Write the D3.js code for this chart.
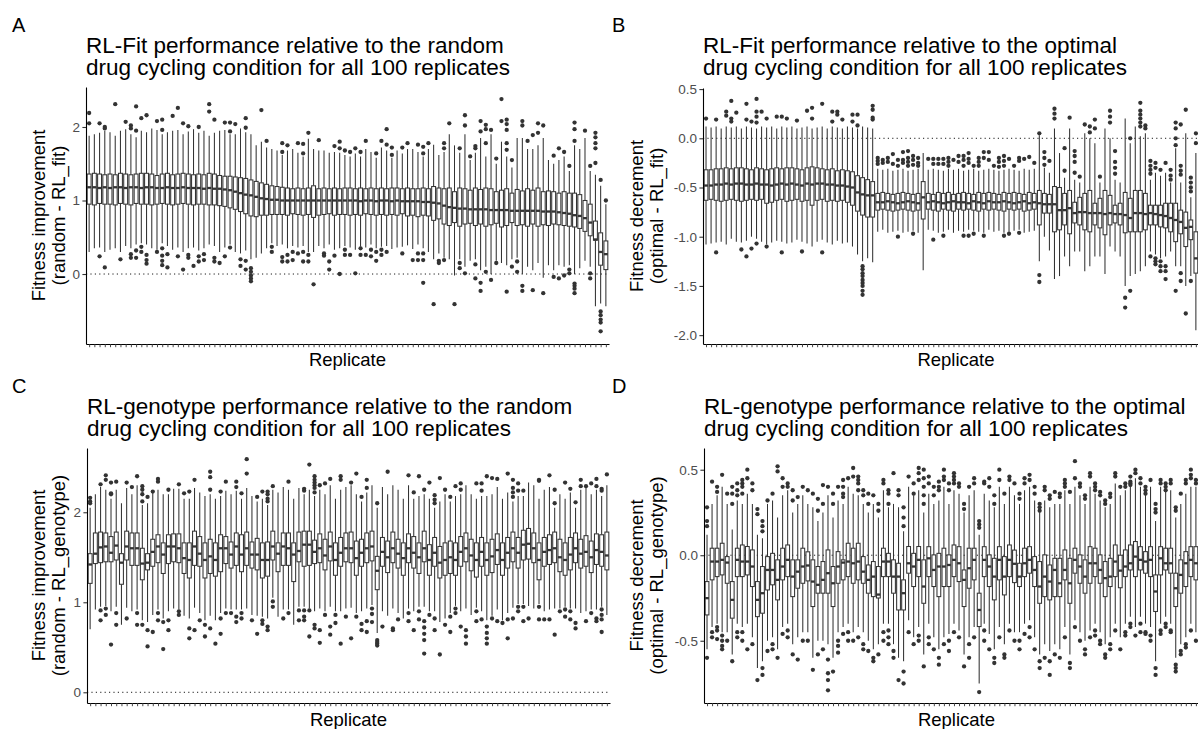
<!DOCTYPE html>
<html><head><meta charset="utf-8">
<script src="https://cdn.jsdelivr.net/npm/d3@7"></script>
<style>
html,body{margin:0;padding:0;background:#fff;}
svg{display:block;font-family:"Liberation Sans",Arial,Helvetica,sans-serif;}
</style></head><body>
<svg id="chart" width="1198" height="729"></svg>
<script>
// ---------- categories ----------
const replicates = d3.range(1, 101);

// ---------- Panel A: RL-Fit vs random ----------
const aMed=[1.18,1.18,1.17,1.18,1.17,1.18,1.18,1.17,1.18,1.18,
1.17,1.18,1.18,1.17,1.17,1.18,1.17,1.17,1.18,1.17,
1.17,1.17,1.16,1.17,1.16,1.16,1.15,1.14,1.12,1.1,
1.08,1.07,1.05,1.03,1.02,1.01,1.01,1.0,1.0,1.0,
1.0,1.0,1.0,1.0,1.0,1.0,1.0,1.0,1.0,1.0,
1.0,1.0,0.99,1.0,1.0,0.99,1.0,1.0,0.99,1.0,
0.99,0.99,0.99,0.99,0.98,0.98,0.97,0.96,0.93,0.91,
0.9,0.89,0.89,0.88,0.88,0.88,0.88,0.87,0.87,0.87,
0.87,0.86,0.86,0.86,0.86,0.86,0.86,0.85,0.85,0.85,
0.84,0.83,0.82,0.8,0.79,0.76,0.7,0.47,0.3,0.27];
const aQ3=[1.36,1.37,1.36,1.35,1.36,1.35,1.37,1.36,1.35,1.36,
1.37,1.37,1.36,1.34,1.36,1.37,1.35,1.36,1.37,1.36,
1.35,1.36,1.35,1.37,1.36,1.34,1.33,1.33,1.32,1.31,
1.3,1.28,1.26,1.24,1.22,1.2,1.19,1.18,1.17,1.16,
1.17,1.16,1.17,1.2,1.16,1.17,1.16,1.17,1.16,1.17,
1.17,1.16,1.17,1.16,1.17,1.16,1.17,1.16,1.17,1.17,
1.16,1.17,1.16,1.16,1.17,1.16,1.19,1.17,1.16,1.17,
1.12,1.17,1.16,1.14,1.17,1.15,1.17,1.16,1.12,1.14,
1.16,1.1,1.15,1.13,1.16,1.14,1.17,1.12,1.13,1.12,
1.1,1.12,1.1,1.1,1.08,1.0,0.95,0.72,0.56,0.45];
const aQ1=[0.95,0.94,0.96,0.95,0.95,0.94,0.96,0.95,0.94,0.96,
0.95,0.95,0.94,0.95,0.96,0.95,0.94,0.95,0.96,0.95,
0.94,0.95,0.95,0.94,0.94,0.93,0.92,0.9,0.88,0.85,
0.82,0.79,0.78,0.8,0.8,0.81,0.81,0.81,0.8,0.82,
0.81,0.8,0.81,0.77,0.8,0.81,0.82,0.8,0.81,0.81,
0.8,0.81,0.8,0.82,0.81,0.8,0.81,0.8,0.81,0.8,
0.82,0.79,0.8,0.78,0.8,0.79,0.73,0.75,0.68,0.66,
0.7,0.65,0.68,0.69,0.66,0.68,0.65,0.67,0.69,0.64,
0.66,0.7,0.66,0.67,0.65,0.68,0.65,0.67,0.66,0.68,
0.67,0.66,0.65,0.64,0.62,0.58,0.52,0.46,0.12,0.06];
const aLo=[0.3,0.35,0.36,0.3,0.33,0.35,0.3,0.38,0.35,0.4,
0.42,0.4,0.35,0.33,0.42,0.38,0.33,0.36,0.3,0.35,
0.36,0.32,0.35,0.4,0.38,0.3,0.36,0.4,0.3,0.28,
0.32,0.2,0.22,0.28,0.35,0.42,0.38,0.4,0.35,0.38,
0.36,0.38,0.3,0.3,0.38,0.35,0.4,0.33,0.35,0.38,
0.36,0.33,0.37,0.36,0.4,0.35,0.37,0.38,0.34,0.36,
0.37,0.39,0.34,0.4,0.35,0.3,0.2,0.28,0.22,0.2,
-0.02,0.2,0.1,0.18,0.2,0.05,0.1,0.0,0.18,0.15,
0.12,0.2,0.22,0.0,0.1,0.05,0.15,-0.05,0.12,0.05,
0.12,0.1,0.12,0.0,0.08,0.18,0.1,-0.44,-0.4,-0.44];
const aHi=[1.88,1.9,1.92,1.95,1.93,1.88,1.95,1.97,1.9,1.86,
1.95,1.93,1.98,1.96,1.9,1.93,1.95,1.96,1.9,1.94,
1.97,1.92,1.95,1.88,1.92,1.95,1.96,1.9,1.9,1.98,
1.93,1.9,1.75,1.8,1.72,1.7,1.68,1.62,1.68,1.7,
1.65,1.6,1.84,1.7,1.68,1.68,1.65,1.66,1.65,1.62,
1.6,1.64,1.6,1.7,1.66,1.58,1.72,1.68,1.58,1.68,
1.64,1.7,1.7,1.66,1.6,1.7,1.76,1.62,1.66,1.9,
1.75,1.65,1.9,1.55,1.65,1.85,1.6,1.9,1.5,1.8,
1.6,1.45,1.85,1.85,1.7,1.7,1.75,1.85,1.55,1.5,
1.55,1.6,1.4,1.75,1.7,1.85,1.4,1.35,1.2,0.95];
const aOut=[[2.19,2.05],[],[2.05,0.24],[2.0,1.98,0.09],[],[2.31],[0.2],[2.07],[2.02,1.98,0.27,0.22],[2.28,1.95,0.32,0.22],
[2.12,0.37,0.3],[2.16,0.26,0.19,0.14],[],[2.08,0.3],[2.1,1.96,0.35,0.25,0.18,0.12],[0.27,0.09],[2.15],[2.26,0.24],[2.05,0.06],[2.01,0.26,0.22],
[0.11],[2.0,0.24,0.17],[0.27,0.19],[2.31,2.21],[2.1,0.22,0.17],[0.15],[2.06,0.24],[2.06,1.94,0.36],[2.04],[0.2,0.11],
[2.12,1.99,0.18,0.06],[0.08,0.03,-0.02,-0.06,-0.1],[],[2.23],[1.81],[0.37,0.3],[],[1.78,1.66,0.23,0.17],[1.75,0.26,0.17],[0.3,0.19],
[1.78,0.28],[1.77,1.64,0.3,0.17],[1.92,0.26,0.17],[-0.14],[1.82],[0.28,0.25],[0.17,0.06],[1.74,0.25],[1.8,1.71,0.0],[1.68,0.33,0.26],
[1.66,0.26],[1.71,0.01],[1.66,0.35,0.26],[1.81,0.26],[0.33,0.24],[1.64,0.3,0.18],[1.81,0.33,0.26],[1.97,1.76,0.3],[1.72,1.62],[],
[1.72,0.28],[1.78],[0.19],[1.76,0.28,0.19],[1.73,1.64,0.28,0.19,-0.12],[1.78],[-0.41],[0.18,0.15],[1.78,1.71,0.19],[2.05],
[-0.41],[1.71,0.15,0.08],[2.16,2.02,0.01],[1.6],[1.74,1.71,0.13,-0.06],[2.08,1.94,-0.12,-0.23],[2.03,1.97,1.78,0.03],[1.96,-0.08],[1.57,0.15],[2.38,2.08],
[2.1,2.04,1.96,1.78,1.69,-0.24],[1.55,0.1],[0.17,0.03],[2.08,2.02,-0.16,-0.23],[1.81],[1.89,-0.22],[2.05,1.92],[2.02,-0.26],[],[1.61,-0.04],
[1.71,-0.06],[1.66,-0.02],[1.47,0.06,0.01],[2.06,1.97,1.81,-0.13,-0.16,-0.2,-0.26],[],[1.95],[1.47,0.01,-0.06],[1.92,1.86,1.78,1.71,1.51],[1.28,-0.51,-0.56,-0.62,-0.66,-0.78],[1.0]];

// ---------- Panel B: RL-Fit vs optimal ----------
const bMed=[-0.48,-0.48,-0.47,-0.47,-0.46,-0.47,-0.46,-0.46,-0.47,-0.47,
-0.46,-0.47,-0.47,-0.48,-0.47,-0.46,-0.47,-0.46,-0.47,-0.48,
-0.46,-0.47,-0.46,-0.46,-0.47,-0.47,-0.48,-0.48,-0.49,-0.5,
-0.55,-0.57,-0.58,-0.58,
-0.65,-0.65,-0.64,-0.65,-0.66,-0.65,-0.64,-0.65,-0.66,-0.6,
-0.65,-0.64,-0.65,-0.66,-0.65,-0.64,-0.65,-0.65,-0.66,-0.64,
-0.65,-0.66,-0.64,-0.65,-0.65,-0.64,-0.65,-0.66,-0.65,-0.64,-0.66,-0.65,
-0.66,-0.67,-0.67,-0.67,-0.73,-0.73,-0.71,-0.76,-0.75,-0.75,
-0.76,-0.76,-0.76,-0.77,-0.76,-0.77,-0.77,-0.78,-0.81,-0.76,
-0.76,-0.77,-0.76,-0.77,-0.78,-0.79,-0.81,-0.83,-0.85,-0.91,-0.9,-1.22,
-0.85,-0.9];
const bQ3=[-0.32,-0.32,-0.31,-0.31,-0.3,-0.31,-0.3,-0.3,-0.31,-0.32,
-0.3,-0.31,-0.32,-0.31,-0.3,-0.31,-0.3,-0.3,-0.31,-0.32,
-0.3,-0.29,-0.3,-0.31,-0.32,-0.31,-0.33,-0.32,-0.33,-0.34,
-0.38,-0.4,-0.42,-0.44,
-0.56,-0.55,-0.56,-0.57,-0.56,-0.55,-0.56,-0.57,-0.56,-0.44,
-0.56,-0.57,-0.55,-0.56,-0.55,-0.57,-0.56,-0.55,-0.56,-0.57,
-0.55,-0.56,-0.55,-0.56,-0.57,-0.55,-0.56,-0.55,-0.56,-0.57,-0.55,-0.56,
-0.53,-0.56,-0.57,-0.49,-0.5,-0.56,-0.53,-0.65,-0.6,-0.56,
-0.53,-0.66,-0.61,-0.53,-0.58,-0.68,-0.66,-0.55,-0.61,-0.53,
-0.53,-0.56,-0.68,-0.68,-0.68,-0.66,-0.66,-0.66,-0.73,-0.75,-0.83,-0.95,
-0.7,-0.75];
const bQ1=[-0.63,-0.62,-0.63,-0.64,-0.63,-0.62,-0.63,-0.64,-0.63,-0.62,
-0.63,-0.62,-0.66,-0.65,-0.63,-0.62,-0.64,-0.63,-0.62,-0.64,
-0.63,-0.68,-0.63,-0.62,-0.64,-0.63,-0.64,-0.63,-0.65,-0.68,
-0.74,-0.78,-0.8,-0.8,
-0.73,-0.72,-0.73,-0.74,-0.73,-0.72,-0.73,-0.74,-0.73,-0.82,
-0.72,-0.73,-0.74,-0.72,-0.73,-0.74,-0.72,-0.73,-0.72,-0.73,
-0.74,-0.72,-0.73,-0.72,-0.73,-0.74,-0.72,-0.73,-0.72,-0.74,-0.73,-0.72,
-0.88,-0.76,-0.76,-0.95,-0.93,-0.88,-0.97,-0.86,-0.88,-0.93,
-0.95,-0.88,-0.91,-0.98,-0.88,-0.86,-0.88,-0.96,-0.95,-0.95,
-0.95,-0.93,-0.88,-0.88,-0.9,-0.91,-0.95,-1.05,-0.97,-1.1,-1.03,-1.37,
-1.0,-1.05];
const bLo=[-1.08,-1.07,-1.06,-1.05,-1.08,-1.02,-1.05,-1.06,-1.04,-1.0,
-1.02,-1.05,-1.08,-1.06,-1.04,-1.05,-1.07,-1.06,-1.03,-1.05,
-1.07,-1.1,-1.05,-1.03,-1.06,-1.08,-1.04,-1.07,-1.06,-1.1,
-1.18,-1.25,-1.22,-1.26,
-0.95,-0.93,-0.96,-0.95,-0.94,-0.96,-0.95,-0.94,-0.96,-1.34,
-0.93,-0.94,-0.96,-0.95,-0.93,-0.96,-0.94,-0.95,-0.93,-0.94,
-0.95,-0.96,-0.93,-0.95,-0.94,-0.96,-0.95,-0.94,-0.93,-0.96,-0.95,-0.94,
-1.25,-1.0,-1.14,-1.43,-1.4,-1.2,-1.3,-1.15,-1.15,-1.35,
-1.3,-1.2,-1.2,-1.38,-1.1,-1.15,-1.2,-1.5,-1.4,-1.38,
-1.35,-1.3,-1.15,-1.18,-1.22,-1.2,-1.15,-1.3,-1.3,-1.5,-1.4,-1.95,
-1.4,-1.5];
const bHi=[0.12,0.11,0.12,0.1,0.12,0.11,0.12,0.1,0.12,0.11,
0.1,0.12,0.11,0.12,0.1,0.12,0.11,0.12,0.1,0.11,
0.12,0.1,0.11,0.12,0.1,0.12,0.11,0.1,0.12,0.11,
0.1,0.12,0.11,0.1,
-0.31,-0.32,-0.31,-0.33,-0.32,-0.31,-0.33,-0.32,-0.31,-0.15,
-0.32,-0.31,-0.32,-0.33,-0.31,-0.32,-0.31,-0.33,-0.32,-0.31,
-0.33,-0.32,-0.31,-0.32,-0.33,-0.32,-0.31,-0.32,-0.33,-0.31,-0.32,-0.31,
0.03,-0.3,-0.35,0.1,-0.15,-0.4,0.1,-0.42,-0.45,0.05,
0.0,-0.05,-0.45,0.1,0.0,-0.42,-0.45,0.2,-0.05,0.12,
0.02,0.05,-0.42,-0.35,-0.38,-0.35,-0.45,-0.1,-0.45,0.05,-0.6,-0.15,
-0.3,-0.35];
const bOut=[[0.2],[],[0.19,-1.16],[],[0.27,0.23],[0.38,0.2,0.17],[0.26],[-1.13],[0.35,0.19,-1.2],[0.17,-1.12],
[0.4,0.27,0.22,0.16,-1.07],[0.27],[0.2,-1.1],[],[0.22],[0.22,-1.16],[0.2],[],[0.18],[-1.15],
[0.28],[0.31,0.2],[],[0.35,-1.16],[],[0.27,0.17],[0.27,0.24],[0.19],[],[0.24,0.17],
[0.24,0.13],[-1.3,-1.33,-1.37,-1.4,-1.44,-1.47,-1.5,-1.55,-1.59],[],[0.33,0.29,0.21,0.19],[-0.2,-0.23,-0.26],[-0.22,-0.25],[-0.2,-0.24],[-0.16,-0.26],[-0.22,-0.28,-1.0],[-0.14,-0.22,-0.25],
[-0.13,-0.2,-0.24,-0.28],[-0.18,-0.22,-0.27,-0.97],[-0.2,-0.25,-0.28],[],[-0.21],[-0.21,-0.26,-1.03],[-0.21,-0.26],[-0.21,-0.26,-0.99],[-0.2,-0.24,-0.28],[-0.22],
[-0.18,-0.24],[-0.18,-0.22,-0.28,-0.99],[-0.15,-0.21,-0.25,-0.99],[-0.28,-0.97],[-0.2,-0.24,-0.28],[-0.14,-0.2,-0.99],[-0.14,-0.22],[-0.28],[-0.2,-0.24,-0.29],[-0.18,-0.23,-0.28,-0.99],
[-0.21,-0.97],[-0.28],[-0.2,-0.23,-0.96],[-0.21],[-0.19],[-0.25],[0.05,-1.39,-1.46],[-0.14,-0.2,-0.27],[-0.23],[0.3,0.25,0.2],
[],[-0.1,-0.33],[0.21],[-0.13,-0.18,-0.24,-0.35],[-0.39],[0.14],[0.12,0.06],[0.19,0.1],[-0.39],[],
[0.28,0.22,0.16],[-0.13,-0.24,-0.3,-0.36],[],[-1.62,-1.72],[0.0,-1.55],[],[0.36,0.28,0.24,0.2,0.16,0.12],[0.13,0.1],[-0.23,-0.28,-0.32,-0.36,-1.2],[-0.25,-0.3,-1.22,-1.25,-1.28],
[-0.32,-1.25,-1.3,-1.35],[-0.25,-1.3,-1.35,-1.43],[-0.32,-0.38,-0.42],[0.16,0.1,0.0,-0.07,-1.55],[0.14,-0.28,-0.33,-0.37,-1.37,-1.45],[0.29,-1.78],[-0.4,-0.45,-0.5,-0.54,-1.45],[0.05,-0.05],[],[]];

// ---------- Panel C: RL-genotype vs random ----------
const cMed=[1.42,1.54,1.61,1.62,1.55,1.63,1.44,1.62,1.6,1.6,
1.43,1.44,1.56,1.62,1.53,1.62,1.62,1.6,1.49,1.47,
1.62,1.54,1.47,1.51,1.47,1.6,1.6,1.53,1.62,1.53,
1.6,1.53,1.53,1.47,1.47,1.62,1.54,1.62,1.6,1.53,
1.57,1.64,1.64,1.56,
1.6,1.52,1.62,1.47,1.55,1.6,1.6,1.49,1.55,1.6,
1.62,1.35,1.56,1.5,1.6,1.54,1.49,1.6,1.55,1.5,
1.6,1.47,1.55,1.44,1.47,1.5,1.47,1.56,1.6,1.52,
1.47,1.56,1.47,1.51,1.58,1.47,1.55,1.6,1.55,1.64,
1.65,1.6,1.47,1.56,1.58,1.6,1.5,1.47,1.53,1.6,
1.54,1.56,1.5,1.58,1.56,1.52];
const cQ3=[1.54,1.77,1.78,1.77,1.73,1.78,1.54,1.79,1.77,1.77,
1.6,1.54,1.7,1.75,1.66,1.75,1.76,1.76,1.66,1.66,
1.79,1.73,1.66,1.7,1.66,1.75,1.73,1.67,1.77,1.75,
1.78,1.67,1.71,1.66,1.67,1.79,1.66,1.77,1.77,1.66,
1.78,1.79,1.79,1.69,
1.76,1.7,1.78,1.66,1.72,1.77,1.78,1.68,1.7,1.77,
1.79,1.51,1.72,1.68,1.78,1.7,1.66,1.76,1.73,1.66,
1.79,1.64,1.72,1.62,1.66,1.68,1.66,1.73,1.77,1.7,
1.66,1.72,1.66,1.7,1.76,1.66,1.72,1.78,1.72,1.8,
1.82,1.77,1.66,1.72,1.75,1.78,1.7,1.66,1.72,1.77,
1.7,1.74,1.68,1.76,1.75,1.78];
const cQ1=[1.21,1.43,1.44,1.45,1.45,1.47,1.2,1.47,1.41,1.41,
1.25,1.36,1.4,1.44,1.32,1.43,1.45,1.44,1.32,1.27,
1.41,1.4,1.27,1.32,1.29,1.34,1.43,1.38,1.41,1.34,
1.41,1.38,1.36,1.27,1.29,1.47,1.34,1.41,1.41,1.23,
1.45,1.4,1.41,1.43,
1.44,1.36,1.46,1.3,1.4,1.45,1.44,1.3,1.4,1.44,
1.46,1.14,1.4,1.33,1.44,1.38,1.3,1.44,1.38,1.32,
1.45,1.3,1.4,1.27,1.3,1.32,1.3,1.4,1.45,1.35,
1.28,1.4,1.3,1.33,1.42,1.3,1.38,1.45,1.38,1.47,
1.48,1.44,1.25,1.4,1.42,1.44,1.34,1.3,1.36,1.44,
1.38,1.4,1.33,1.42,1.4,1.36];
const cLo=[0.7,0.92,0.95,0.96,0.9,0.95,0.75,0.94,0.9,0.92,
0.8,0.78,0.86,0.92,0.82,0.9,0.93,0.92,0.85,0.82,
0.94,0.88,0.8,0.85,0.8,0.88,0.93,0.92,0.92,0.92,
0.93,0.86,0.85,0.84,0.82,1.05,0.84,0.92,0.92,0.75,
0.95,0.95,0.93,0.9,
0.93,0.9,0.95,0.9,0.9,0.93,0.94,0.88,0.9,0.93,
0.97,0.66,0.9,0.85,0.93,0.88,0.82,0.93,0.9,0.95,
0.95,0.9,0.9,0.78,0.82,0.88,0.96,0.9,0.93,0.86,
0.94,0.9,0.8,0.85,0.92,0.8,0.88,0.94,0.98,0.98,
0.96,0.93,0.98,0.9,0.92,0.93,0.93,0.95,0.93,0.93,
0.88,0.9,0.92,0.92,0.95,0.86];
const cHi=[2.05,2.2,2.28,2.25,2.15,2.25,2.1,2.27,2.2,2.3,
2.08,2.1,2.22,2.25,2.2,2.2,2.26,2.26,2.15,2.15,
2.27,2.22,2.18,2.2,2.15,2.18,2.24,2.2,2.24,2.15,
2.27,2.18,2.12,2.15,2.08,2.25,2.22,2.28,2.25,2.15,
2.27,2.2,2.25,2.18,
2.25,2.2,2.3,2.15,2.25,2.28,2.3,2.2,2.12,2.22,
2.3,2.05,2.28,2.2,2.3,2.25,2.15,2.3,2.15,2.18,
2.2,2.15,2.05,2.12,2.2,2.12,2.18,2.2,2.3,2.2,
2.15,2.18,2.18,2.2,2.28,2.15,2.22,2.12,2.18,2.18,
2.33,2.3,2.15,2.25,2.28,2.05,2.2,2.15,2.22,2.05,
2.25,2.28,2.2,2.25,2.18,2.3];
const cOut=[[2.16,2.12,2.1],[],[2.31,0.91,0.8],[2.41,2.36,0.93,0.86],[2.33,2.21,2.2,0.53],[2.34,0.88,0.75],[],[2.33,0.82],[2.28],[2.4,0.88,0.75],
[2.29,2.25,2.2,2.12,0.75],[2.17,0.69,0.51],[2.23,0.67],[2.37,2.34,0.88,0.8],[0.78,0.48],[2.25,0.8,0.69],[],[2.31,0.9,0.86],[2.21],[2.23,0.71,0.6],
[2.36,0.69],[0.8],[0.75,0.62],[2.45,2.39,2.25,0.71],[0.54],[2.23,0.82,0.65],[2.34,0.88],[0.88],[2.34,2.28,0.84,0.78],[2.21,0.88,0.82],
[2.59,2.43],[0.8],[2.17,0.65],[2.23,0.8,0.76],[2.23,2.2,2.15,2.12,0.73,0.69],[2.29,1.01,0.95],[],[0.82],[2.34,0.88],[],
[0.91,0.8],[2.26,2.24,0.91,0.84,0.8],[2.53,0.91,0.62],[2.4,2.36,2.33,2.3,2.27,2.22,0.75,0.71],[2.3,0.69,0.55],[2.32,0.86],[2.37,0.73,0.64],[0.86,0.77],[2.4,2.36,0.54],[0.84],
[2.33,0.6],[2.43,0.84],[2.17,0.76,0.69],[2.36,2.27,0.79,0.67],[0.93,0.87,0.78],[2.1,0.58,0.56,0.54,0.52],[0.73],[2.45],[0.71,0.69],[0.81],
[],[2.41,0.88,0.79],[2.22,0.69],[2.4,0.9,0.81],[2.25,0.79,0.72,0.65,0.58,0.43],[2.33,0.86],[2.19,2.14,2.1,0.82,0.69],[2.38,0.42],[2.25,0.75],[2.17,0.84,0.67],
[2.29,0.93,0.88],[2.32,2.25,0.73],[0.69,0.62,0.54],[],[2.32,0.9,0.79],[2.32,2.24,0.81],[2.4,0.73,0.66,0.6,0.54],[2.38,0.82],[2.37,0.79],[0.77],
[2.43,0.81,0.6],[2.36,2.27,2.22,2.17,0.82],[2.32,2.24,0.95,0.9],[2.24,0.95,0.79],[0.82],[],[2.36,2.35,0.95,0.81],[0.81],[2.41,0.81],[2.25,2.1,0.64],
[0.9],[2.33,0.92,0.84],[2.26,0.9,0.81],[2.11,0.77,0.71],[2.36,2.29],[2.29,0.79],[2.32,0.88],[2.37,2.29,0.82,0.79],[2.26,2.24,0.92,0.86,0.81,0.67],[2.42]];

// ---------- Panel D: RL-genotype vs optimal ----------
const dMed=[-0.251,-0.037,-0.037,-0.027,-0.043,-0.261,-0.027,-0.037,-0.037,-0.066,
-0.261,-0.222,-0.086,-0.086,-0.144,-0.066,-0.027,-0.125,-0.096,-0.066,
-0.06,-0.154,-0.173,-0.144,-0.105,-0.164,-0.066,-0.043,-0.037,-0.047,
-0.037,-0.096,-0.144,-0.125,-0.23,-0.037,-0.037,-0.125,-0.125,-0.222,
-0.047,-0.066,-0.027,-0.183,-0.018,-0.086,-0.066,-0.066,-0.057,-0.027,
-0.047,-0.144,-0.076,-0.027,-0.32,-0.027,-0.066,-0.125,-0.027,-0.125,
-0.027,-0.05,-0.125,-0.047,-0.027,-0.086,-0.183,-0.125,-0.154,-0.086,
-0.164,-0.086,-0.164,-0.027,-0.066,-0.125,-0.047,-0.047,-0.086,-0.134,
-0.125,-0.037,-0.09,-0.066,-0.047,-0.008,-0.027,-0.037,-0.027,-0.212,
-0.018,-0.047,-0.047,-0.193,-0.115,-0.047,-0.027,-0.047,-0.08,-0.05];
const dQ3=[-0.154,0.041,0.041,0.07,-0.008,-0.154,0.041,0.06,0.051,0.031,
-0.154,-0.066,-0.008,0.011,-0.027,0.041,0.06,-0.027,-0.027,0.041,
0.02,-0.027,-0.066,-0.037,0.031,-0.066,0.021,-0.027,0.07,0.041,
0.07,-0.008,-0.057,-0.037,-0.066,0.041,0.011,-0.027,-0.047,-0.144,
0.051,0.011,0.051,-0.027,0.05,0.002,0.011,0.041,0.002,0.06,
0.05,-0.086,0.041,0.041,-0.222,0.05,0.002,-0.018,0.05,-0.008,
0.06,0.03,-0.047,0.041,0.05,-0.008,-0.037,0.002,-0.057,-0.018,
-0.018,0.031,-0.018,0.041,0.002,-0.027,0.05,0.041,0.002,-0.037,
-0.018,0.06,0.0,0.031,0.06,0.08,0.05,0.021,0.05,-0.115,
0.05,0.041,0.041,-0.105,-0.027,0.021,0.05,0.05,0.0,0.03];
const dQ1=[-0.349,-0.144,-0.125,-0.115,-0.164,-0.368,-0.125,-0.125,-0.115,-0.183,
-0.359,-0.339,-0.203,-0.173,-0.261,-0.144,-0.125,-0.242,-0.193,-0.164,
-0.15,-0.3,-0.222,-0.222,-0.222,-0.3,-0.164,-0.144,-0.125,-0.164,
-0.144,-0.164,-0.222,-0.242,-0.25,-0.125,-0.125,-0.222,-0.32,-0.32,
-0.105,-0.183,-0.125,-0.281,-0.125,-0.183,-0.242,-0.183,-0.183,-0.125,
-0.154,-0.3,-0.193,-0.144,-0.417,-0.125,-0.183,-0.261,-0.144,-0.232,
-0.125,-0.16,-0.183,-0.125,-0.105,-0.183,-0.281,-0.242,-0.261,-0.242,
-0.242,-0.144,-0.281,-0.105,-0.164,-0.222,-0.164,-0.125,-0.164,-0.242,
-0.183,-0.125,-0.19,-0.125,-0.086,-0.125,-0.086,-0.105,-0.125,-0.329,
-0.115,-0.086,-0.105,-0.3,-0.222,-0.183,-0.125,-0.144,-0.18,-0.14];
const dLo=[-0.55,-0.42,-0.4,-0.45,-0.45,-0.58,-0.4,-0.42,-0.4,-0.48,
-0.66,-0.62,-0.5,-0.48,-0.55,-0.42,-0.4,-0.52,-0.48,-0.45,
-0.45,-0.6,-0.5,-0.5,-0.52,-0.6,-0.45,-0.42,-0.4,-0.45,
-0.42,-0.45,-0.5,-0.55,-0.52,-0.4,-0.4,-0.52,-0.6,-0.62,
-0.38,-0.48,-0.42,-0.58,-0.4,-0.48,-0.55,-0.48,-0.46,-0.4,
-0.44,-0.58,-0.48,-0.42,-0.75,-0.4,-0.46,-0.55,-0.42,-0.52,
-0.4,-0.45,-0.45,-0.4,-0.38,-0.48,-0.58,-0.52,-0.56,-0.52,
-0.55,-0.42,-0.58,-0.38,-0.45,-0.5,-0.44,-0.4,-0.45,-0.52,
-0.48,-0.4,-0.48,-0.4,-0.36,-0.42,-0.36,-0.4,-0.42,-0.62,
-0.4,-0.36,-0.4,-0.6,-0.52,-0.48,-0.4,-0.45,-0.48,-0.42];
const dHi=[0.12,0.3,0.35,0.4,0.3,0.15,0.32,0.3,0.36,0.3,
0.12,0.1,0.3,0.32,0.22,0.35,0.38,0.25,0.3,0.35,
0.3,0.28,0.2,0.25,0.35,0.22,0.32,0.3,0.4,0.36,
0.35,0.3,0.25,0.3,0.22,0.38,0.28,0.3,0.28,0.14,
0.4,0.35,0.38,0.25,0.36,0.3,0.32,0.4,0.3,0.38,
0.36,0.25,0.35,0.38,0.12,0.36,0.32,0.28,0.4,0.3,
0.4,0.35,0.3,0.38,0.4,0.32,0.25,0.32,0.28,0.3,
0.3,0.38,0.3,0.4,0.35,0.3,0.4,0.36,0.32,0.28,
0.3,0.42,0.35,0.38,0.4,0.45,0.4,0.36,0.4,0.2,
0.4,0.38,0.38,0.22,0.3,0.36,0.4,0.4,0.35,0.38];
const dOut=[[0.28,0.2,0.17,-0.6],[0.43,-0.45,-0.48],[0.4,0.37,-0.42,-0.44,-0.49],[0.47,-0.47,-0.5,-0.53,-0.55],[0.36,-0.5],[0.4,0.36,0.3,-0.62],[0.42,0.38,0.35,-0.45,-0.48],[0.44,0.42,0.4,0.36,-0.45,-0.5],[0.5,0.45,-0.55],[0.42,0.38,-0.52],
[0.27,0.24,-0.73],[0.2,0.17,0.14,-0.66,-0.7],[0.32,-0.56],[0.36,-0.52,-0.55],[0.52,0.49,-0.6],[0.45,0.4,-0.46],[0.42,0.4,-0.44,-0.48],[0.38,0.32,-0.58],[0.34,-0.61],[0.4,-0.5],
[0.38,-0.5],[0.36,-0.67],[0.33,0.26,-0.58],[0.41,0.3,-0.55],[0.4,-0.61,-0.69,-0.73,-0.79],[0.36,0.3,-0.68],[0.4,-0.5,-0.53,-0.57],[0.44,0.4,0.36,0.34,-0.46],[0.45,-0.45,-0.5],[0.51,0.46,-0.5],
[0.46,0.44,0.42,0.38,-0.48],[0.38,0.35,-0.52,-0.55],[0.36,0.3,-0.56],[0.35,-0.6,-0.62],[0.3,0.26,-0.58],[0.44,0.42,-0.45,-0.5],[0.38,0.36,0.3,-0.44,-0.48,-0.52],[0.48,-0.56,-0.6],[0.38,0.35,-0.73],[0.28,0.22,0.17,-0.68,-0.75],
[0.46,-0.45],[0.42,0.36,-0.52],[0.51,0.48,0.44,-0.47,-0.5],[0.5,0.45,0.4,0.35,0.3,-0.65],[0.46,0.42,-0.48,-0.52],[0.4,0.35,-0.55],[0.43,0.4,0.38,-0.6,-0.64],[0.5,0.46,0.44,-0.52],[0.42,0.38,-0.5,-0.56],[0.48,0.46,0.44,0.42,-0.45],
[0.42,0.4,-0.48],[0.3,0.27,-0.65],[0.4,-0.52,-0.6],[0.45,0.42,-0.48],[0.2,0.18,0.16,-0.8],[0.43,0.42,-0.44,-0.5],[0.45,0.4,-0.55],[0.35,0.3,-0.6,-0.63],[0.5,0.44,-0.48],[0.36,-0.58,-0.6],
[0.46,0.44,-0.44],[0.42,-0.5],[0.36,0.33,-0.5,-0.55],[0.45,0.42,-0.46],[0.47,0.44,-0.42,-0.48],[0.4,0.36,-0.55],[0.3,0.28,0.26,-0.62,-0.66],[0.4,0.38,-0.6],[0.35,0.33,-0.62,-0.7],[0.37,-0.58],
[0.36,0.34,-0.6],[0.44,0.42,0.4,-0.48],[0.37,-0.63,-0.66],[0.55,0.45,-0.42],[0.42,0.4,-0.5],[0.35,0.33,-0.55,-0.58],[0.48,0.46,-0.48],[0.42,0.4,0.38,-0.44,-0.47],[0.37,0.35,-0.5,-0.52],[0.32,0.3,-0.58,-0.6],
[0.36,0.34,-0.52,-0.55],[0.48,0.46,-0.44],[0.4,-0.55],[0.42,0.4,-0.45,-0.47],[0.46,0.43,0.42,0.41,-0.4,-0.42],[0.5,0.48,-0.47],[0.45,0.42,-0.4,-0.45],[0.4,0.38,0.36,-0.45,-0.46],[0.44,-0.47,-0.5],[0.3,0.27,0.25,-0.66,-0.7],
[0.44,0.42,-0.44,-0.46],[0.42,0.4,0.38,-0.4,-0.42],[0.44,0.42,-0.44,-0.45],[0.28,0.26,-0.64,-0.66,-0.68],[0.36,-0.56,-0.58],[0.44,0.42,-0.52,-0.54],[0.5,0.47,0.45,-0.44],[0.44,0.42,-0.5],[0.4,-0.52],[0.43,-0.46]];

// ---------- tick labels / texts ----------
const ticksAC=[0,1,2];
const ticksB=[0.5,0.0,-0.5,-1.0,-1.5,-2.0];
const ticksD=[0.5,0.0,-0.5];

const panels=[
 {label:'A', title:['RL-Fit performance relative to the random','drug cycling condition for all 100 replicates'],
  ylab:['Fitness improvement','(random - RL_fit)'], med:aMed,q1:aQ1,q3:aQ3,lo:aLo,hi:aHi,out:aOut,
  ylim:[-0.952,2.544], ticks:ticksAC, fmt:d=>String(d),
  x0:86,x1:609,y0:87,y1:344, lab:[12,32.3], tY:[52.7,75.2], yl:[45,65], xl:366},
 {label:'B', title:['RL-Fit performance relative to the optimal','drug cycling condition for all 100 replicates'],
  ylab:['Fitness decrement','(optimal - RL_fit)'], med:bMed,q1:bQ1,q3:bQ3,lo:bLo,hi:bHi,out:bOut,
  ylim:[-2.090,0.511], ticks:ticksB, fmt:d=>d.toFixed(1),
  x0:703,x1:1209,y0:88,y1:344, lab:[612,32.3], tY:[52.7,75.2], yl:[643,663], xl:366},
 {label:'C', title:['RL-genotype performance relative to the random','drug cycling condition for all 100 replicates'],
  ylab:['Fitness improvement','(random - RL_genotype)'], med:cMed,q1:cQ1,q3:cQ3,lo:cLo,hi:cHi,out:cOut,
  ylim:[-0.119,2.714], ticks:ticksAC, fmt:d=>String(d),
  x0:87,x1:610,y0:448,y1:703, lab:[12,393], tY:[413.5,436], yl:[45,65], xl:726},
 {label:'D', title:['RL-genotype performance relative to the optimal','drug cycling condition for all 100 replicates'],
  ylab:['Fitness decrement','(optimal - RL_genotype)'], med:dMed,q1:dQ1,q3:dQ3,lo:dLo,hi:dHi,out:dOut,
  ylim:[-0.864,0.627], ticks:ticksD, fmt:d=>d.toFixed(1),
  x0:704,x1:1209,y0:448,y1:703, lab:[612,393], tY:[413.5,436], yl:[643,663], xl:726}
];

const svg=d3.select('#chart');
svg.append('rect').attr('width',1198).attr('height',729).attr('fill','#fff');
const FONT='"Liberation Sans",Arial,Helvetica,sans-serif';
const INK='#333333';

panels.forEach(p=>{
  const g=svg.append('g');
  const x=d3.scalePoint().domain(replicates).range([p.x0,p.x1]).padding(0.6);
  const y=d3.scaleLinear().domain(p.ylim).range([p.y1,p.y0]);
  const bw=x.step()*0.75;

  // reference line at 0
  g.append('line').attr('x1',p.x0).attr('x2',p.x1).attr('y1',y(0)).attr('y2',y(0))
    .attr('stroke','#000').attr('stroke-width',0.9).attr('stroke-dasharray','1.2,3.2');

  const rows=replicates.map((r,i)=>({r,lo:p.lo[i],q1:p.q1[i],med:p.med[i],q3:p.q3[i],hi:p.hi[i],out:p.out[i]||[]}));
  const bg=g.selectAll('g.bx').data(rows).join('g').attr('class','bx');
  bg.append('line').attr('x1',d=>x(d.r)).attr('x2',d=>x(d.r)).attr('y1',d=>y(d.hi)).attr('y2',d=>y(d.q3))
    .attr('stroke',INK).attr('stroke-width',1.05);
  bg.append('line').attr('x1',d=>x(d.r)).attr('x2',d=>x(d.r)).attr('y1',d=>y(d.q1)).attr('y2',d=>y(d.lo))
    .attr('stroke',INK).attr('stroke-width',1.05);
  bg.append('rect').attr('x',d=>x(d.r)-bw/2).attr('width',bw)
    .attr('y',d=>y(d.q3)).attr('height',d=>Math.max(0.5,y(d.q1)-y(d.q3)))
    .attr('fill','#fff').attr('stroke',INK).attr('stroke-width',1.05);
  bg.append('line').attr('x1',d=>x(d.r)-bw/2).attr('x2',d=>x(d.r)+bw/2).attr('y1',d=>y(d.med)).attr('y2',d=>y(d.med))
    .attr('stroke',INK).attr('stroke-width',2.3);
  bg.selectAll('circle').data(d=>d.out.map(v=>({r:d.r,v}))).join('circle')
    .attr('cx',d=>x(d.r)).attr('cy',d=>y(d.v)).attr('r',2.15).attr('fill',INK);

  // axes
  const ya=d3.axisLeft(y).tickValues(p.ticks).tickFormat(p.fmt).tickSize(3.6).tickPadding(2.5).tickSizeOuter(0);
  const yg=g.append('g').attr('transform',`translate(${p.x0},0)`).call(ya).attr('font-family',null).attr('font-size',null);
  yg.select('.domain').attr('stroke','#000').attr('stroke-width',1.1);
  yg.selectAll('.tick line').attr('stroke',INK).attr('stroke-width',1.1);
  yg.selectAll('.tick text').attr('fill','#4D4D4D').style('font-size','13.5px').style('font-family',FONT);

  const xa=d3.axisBottom(x).tickFormat('').tickSize(3.2).tickSizeOuter(0);
  const xg=g.append('g').attr('transform',`translate(0,${p.y1})`).call(xa);
  xg.select('.domain').attr('stroke','#000').attr('stroke-width',1.1);
  xg.selectAll('.tick line').attr('stroke',INK).attr('stroke-width',0.9);

  // titles (one text element per panel, two lines)
  const t=g.append('text').attr('x',p.x0).style('font-family',FONT).style('font-size','22.5px').attr('fill','#000');
  p.title.forEach((s,i)=>t.append('tspan').attr('x',p.x0).attr('y',p.tY[i]).text(s));

  const cy=(p.y0+p.y1)/2;
  p.ylab.forEach((s,i)=>{
    g.append('text').attr('transform',`translate(${p.yl[i]},${cy}) rotate(-90)`).attr('text-anchor','middle')
      .style('font-family',FONT).style('font-size','18.5px').attr('fill','#000').text(s);
  });
  g.append('text').attr('x',(p.x0+p.x1)/2).attr('y',p.xl).attr('text-anchor','middle')
    .style('font-family',FONT).style('font-size','18.5px').attr('fill','#000').text('Replicate');
  g.append('text').attr('x',p.lab[0]).attr('y',p.lab[1]).style('font-family',FONT).style('font-size','20px').attr('fill','#000').text(p.label);
});
</script>
</body></html>
